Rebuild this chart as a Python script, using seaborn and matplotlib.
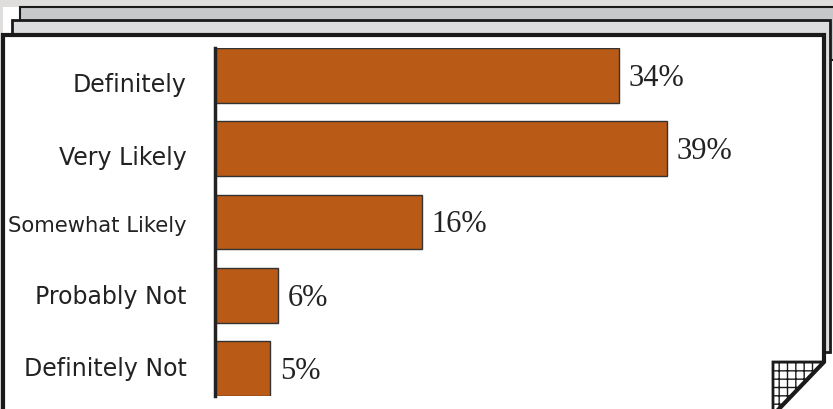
import matplotlib
matplotlib.use("Agg")
import matplotlib.pyplot as plt
from matplotlib.patches import Polygon
import seaborn as sns
import pandas as pd

categories = ["Definitely", "Very Likely", "Somewhat Likely", "Probably Not", "Definitely Not"]
# bar lengths as drawn in the picture (percent)
bar_values = [34.2, 38.3, 17.5, 5.3, 4.7]
pct_labels = ["34%", "39%", "16%", "6%", "5%"]

df = pd.DataFrame({"answer": categories, "pct": bar_values})

W, H = 833, 409
sns.set_theme(style="white")
fig = plt.figure(figsize=(W / 100, H / 100), dpi=100, facecolor="#E0DEDC")


def px(points):
    return [(x / W, 1 - y / H) for x, y in points]


def page(points, fc, lw, z, **kw):
    p = Polygon(px(points), closed=True, facecolor=fc, edgecolor="#1a1a1a",
                linewidth=lw, transform=fig.transFigure, zorder=z, **kw)
    fig.add_artist(p)


# stacked pages behind the chart
page([(3, 7), (840, 7), (840, 420), (3, 420)], "white", 0, -10)
page([(20, 7), (845, 7), (845, 60), (20, 60)], "#C7C8CA", 1.5, -9)
page([(12, 20), (830, 20), (830, 352), (12, 352)], "#DCDDDF", 2, -8)
page([(3, 35), (824, 35), (824, 362), (776, 412), (3, 412)], "white", 3, -7)
plt.rcParams["hatch.color"] = "#888888"
page([(773, 362), (823, 362), (776, 411), (773, 411)], "white", 2, -6, hatch="++")

ax = fig.add_axes([215 / W, 1 - 396 / H, 590 / W, (396 - 48) / H])
ax.set_facecolor("none")
sns.barplot(data=df, x="pct", y="answer", orient="h", color="#B95A16",
            saturation=1, width=0.75, edgecolor="#333333", linewidth=1, ax=ax)
ax.set_xlim(0, 50)
ax.set_ylim(4.375, -0.375)

for i, lab in enumerate(pct_labels):
    ax.annotate(lab, (bar_values[i], i), xytext=(7, -2), textcoords="offset points",
                va="center", ha="left", fontsize=22, color="#222222",
                family="Liberation Serif")

# category labels (small vertical nudges as in the original)
nudge = [7.5, 6.5, 2.5, -1, -2]
for i, lab in enumerate(categories):
    ax.annotate(lab, (0, i), xytext=(-20.5, -nudge[i] * 0.72), textcoords="offset points",
                va="center_baseline", ha="right", color="#222222",
                fontsize=15.2 if lab == "Somewhat Likely" else 17, family="DejaVu Sans")

ax.set_xlabel("")
ax.set_ylabel("")
ax.set_xticks([])
ax.set_yticks([])
sns.despine(ax=ax, top=True, right=True, bottom=True)
ax.spines["left"].set_color("#222222")
ax.spines["left"].set_linewidth(2.5)

fig.savefig("out.png", dpi=100, facecolor=fig.get_facecolor())
